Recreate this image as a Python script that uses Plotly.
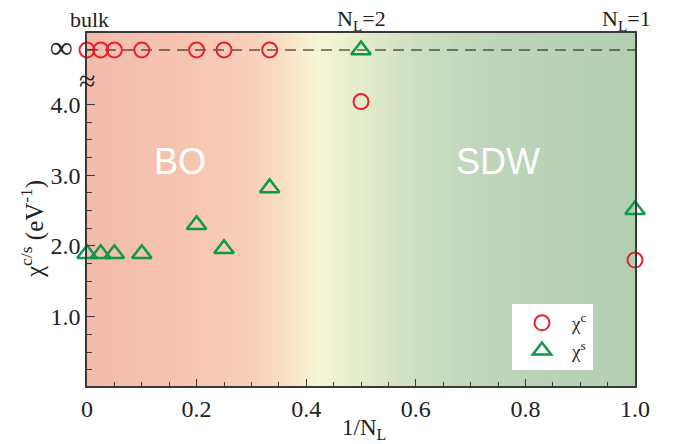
import numpy as np
import plotly.graph_objects as go

# ---- data ----
inv_NL = [0, 1/40, 1/20, 1/10, 1/5, 1/4, 1/3, 1/2, 1.0]
chi_c = [float("inf")] * 7 + [4.04, 1.80]
chi_s = [1.89, 1.89, 1.89, 1.89, 2.30, 1.96, 2.82, float("inf"), 2.51]
x_ticks = [0, 0.2, 0.4, 0.6, 0.8, 1.0]
x_ticklabels = ["0", "0.2", "0.4", "0.6", "0.8", "1.0"]
y_ticks = [1.0, 2.0, 3.0, 4.0]
y_ticklabels = ["1.0", "2.0", "3.0", "4.0"]
INF_Y = 4.77  # where "infinity" is drawn on the axis

def disp(v):
    return INF_Y if np.isinf(v) else v

SERIF = "Liberation Serif, Times New Roman, serif"
SANS = "Liberation Sans, Arial, sans-serif"
AX = "#3a3a3a"
TXT = "#222"

bg_scale = [
    [0.00, "rgb(244,188,170)"],
    [0.15, "rgb(246,194,176)"],
    [0.30, "rgb(248,208,186)"],
    [0.36, "rgb(248,224,196)"],
    [0.42, "rgb(246,246,212)"],
    [0.50, "rgb(228,236,202)"],
    [0.60, "rgb(206,223,193)"],
    [0.72, "rgb(191,214,186)"],
    [1.00, "rgb(179,207,178)"],
]
gx = np.linspace(0, 1, 201)

# page body has an 8px margin: compensate so plot area lands at x 87..635, y 33..386
W, H = 665, 436
ML, MR, MT, MB = 79, 38, 25, 58
PW, PH = W - ML - MR, H - MT - MB
PX0, PY0 = 87, 386  # page pixel of plot-area bottom-left

def px(xp):
    return (xp - PX0) / PW

def py(yp):
    return (PY0 - yp) / PH

fig = go.Figure()
fig.add_trace(go.Heatmap(x=gx, y=[-1, 6], z=[gx, gx], colorscale=bg_scale,
                         zsmooth="best", showscale=False, hoverinfo="skip"))
fig.add_trace(go.Scatter(x=[0, 1], y=[INF_Y, INF_Y], mode="lines",
                         line=dict(color="#111", width=1.2, dash="11px,7px"),
                         showlegend=False, hoverinfo="skip"))
fig.add_trace(go.Scatter(x=inv_NL, y=[disp(v) for v in chi_c], mode="markers",
                         name="χ<sup>c</sup>", cliponaxis=False,
                         marker=dict(symbol="circle-open", size=15, color="#e8202a",
                                     line=dict(width=2, color="#e8202a"))))
fig.add_trace(go.Scatter(x=inv_NL, y=[disp(v) for v in chi_s], mode="markers",
                         name="χ<sup>s</sup>", cliponaxis=False,
                         marker=dict(symbol="triangle-up-open", size=17, color="#0a9a4a",
                                     line=dict(width=2.5, color="#0a9a4a"))))

minor_y = [v for v in np.arange(0.25, 4.0, 0.25) if abs(v - round(v)) > 1e-6]

fig.update_layout(
    width=W, height=H, autosize=False,
    margin=dict(l=ML, r=MR, t=MT, b=MB, autoexpand=False),
    plot_bgcolor="white", paper_bgcolor="white",
    font=dict(family=SERIF, size=23, color=TXT),
    showlegend=True,
    legend=dict(x=px(512), y=py(304), xanchor="left", yanchor="top",
                bgcolor="white", borderwidth=0, font=dict(family=SERIF, size=19, color=TXT),
                itemwidth=50, tracegroupgap=0),
    xaxis=dict(range=[0, 1], tickvals=x_ticks, ticktext=x_ticklabels,
               ticks="inside", ticklen=7, tickwidth=1.2, tickcolor=AX,
               minor=dict(dtick=0.05, ticks="inside", ticklen=4, tickcolor=AX, tickwidth=1),
               showline=True, linecolor=AX, linewidth=1.5, mirror=True,
               showgrid=False, zeroline=False,
               tickfont=dict(family=SERIF, size=24, color=TXT)),
    yaxis=dict(range=[0.02, 5.01],
               tickvals=y_ticks + [INF_Y],
               ticktext=y_ticklabels + ['<span style="font-size:32px">∞\u00a0</span>'],
               ticks="inside", ticklen=8, tickwidth=1.2, tickcolor=AX,
               minor=dict(tickvals=minor_y, ticks="inside", ticklen=5, tickcolor=AX, tickwidth=1),
               showline=True, linecolor=AX, linewidth=1.5, mirror=True,
               showgrid=False, zeroline=False,
               tickfont=dict(family=SERIF, size=24, color=TXT)),
)

top_font = dict(family=SERIF, size=22, color=TXT)
ann = [
    dict(x=0.005, y=py(20), xref="x", yref="paper", text="bulk", font=top_font),
    dict(x=0.5, y=py(20), xref="x", yref="paper", text="N<sub>L</sub>=2", font=top_font),
    dict(x=0.985, y=py(20), xref="x", yref="paper", text="N<sub>L</sub>=1", font=top_font),
    dict(x=0.0, y=4.34, xref="x", yref="y", text="≈", font=dict(family=SERIF, size=30, color=TXT)),
    dict(x=0.17, y=3.2, xref="x", yref="y", text="BO", font=dict(family=SANS, size=36, color="white")),
    dict(x=0.75, y=3.2, xref="x", yref="y", text="SDW", font=dict(family=SANS, size=36, color="white")),
    dict(x=0.505, y=py(429), xref="x", yref="paper", text="1/N<sub>L</sub>"),
    dict(x=px(32), y=py(229), xref="paper", yref="paper",
         text="χ<sup>c/s</sup> (eV<sup>-1</sup>)", textangle=-90,
         font=dict(family=SERIF, size=25, color=TXT)),
]
for a in ann:
    a.setdefault("showarrow", False)
    a.setdefault("xanchor", "center")
    a.setdefault("yanchor", "middle")
    a.setdefault("font", dict(family=SERIF, size=23, color=TXT))
fig.update_layout(annotations=ann)

fig.write_html("out.html")
